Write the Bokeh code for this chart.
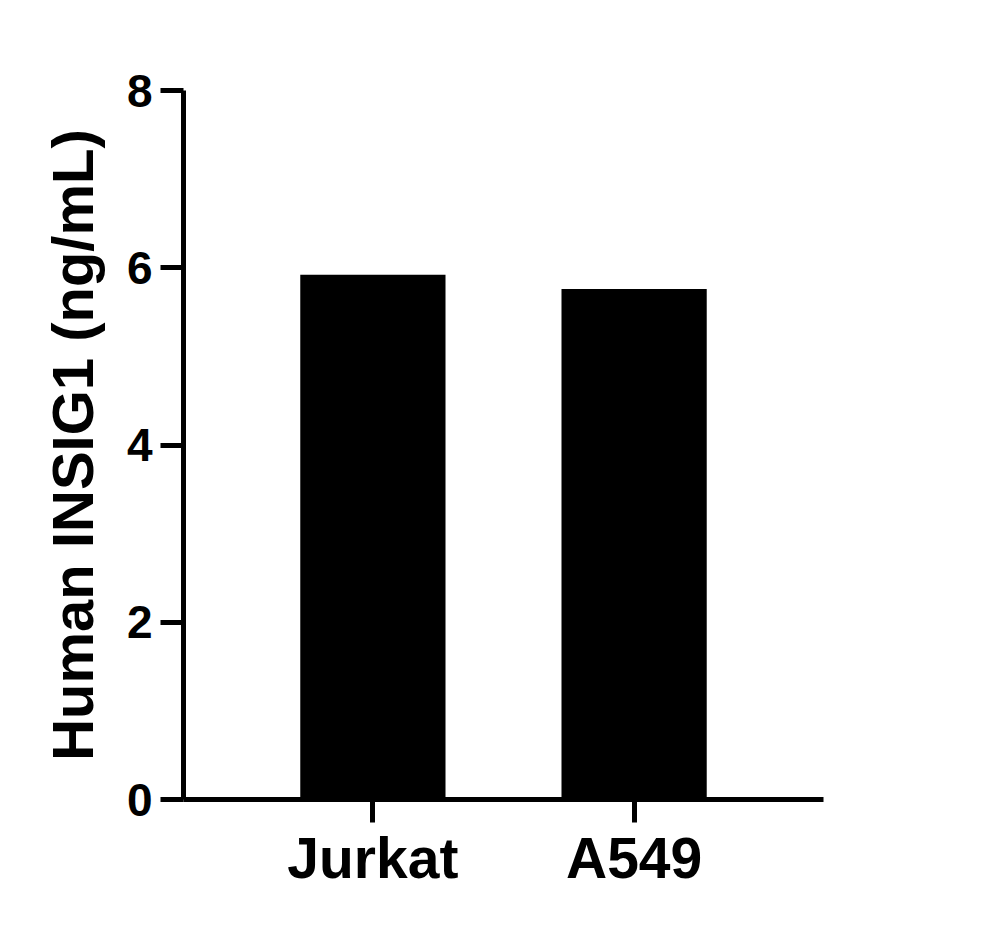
from bokeh.plotting import figure
from bokeh.models import FactorRange, Range1d, FixedTicker
from bokeh.embed import file_html
from bokeh.resources import INLINE

categories = ["Jurkat", "A549"]
values = [5.92, 5.76]
y_ticks = [0, 2, 4, 6, 8]

FONT = "Liberation Sans"

p = figure(
    x_range=FactorRange(*categories, range_padding=0.225),
    y_range=Range1d(0, 8),
    frame_width=640, frame_height=709,
    min_border_left=183, min_border_right=162,
    min_border_top=90, min_border_bottom=119,
    output_backend="svg", toolbar_location=None,
)
p.outline_line_color = None
p.xgrid.grid_line_color = None
p.ygrid.grid_line_color = None
p.background_fill_color = "white"
p.border_fill_color = "white"

p.vbar(x=categories, top=values, width=0.556, fill_color="black", line_color="black", line_width=0)

for ax in (p.xaxis[0], p.yaxis[0]):
    ax.axis_line_width = 5
    ax.axis_line_color = "black"
    ax.major_tick_line_width = 5
    ax.major_tick_line_color = "black"
    ax.major_tick_in = 0
    ax.major_tick_out = 23
    ax.minor_tick_line_color = None
    ax.major_label_text_font = FONT
    ax.major_label_text_font_style = "bold"
    ax.major_label_text_color = "black"
    ax.axis_label_text_font = FONT
    ax.axis_label_text_font_style = "bold"
    ax.axis_label_text_color = "black"

p.yaxis.ticker = FixedTicker(ticks=y_ticks)
p.yaxis.major_label_text_font_size = "46px"
p.yaxis.major_label_standoff = 8
p.yaxis.axis_label = "Human INSIG1 (ng/mL)"
p.yaxis.axis_label_text_font_size = "58px"
p.yaxis.axis_label_standoff = 19

p.xaxis.major_label_text_font_size = "57px"
p.xaxis.major_label_standoff = 3

open("out.html", "w").write(file_html(p, INLINE))
